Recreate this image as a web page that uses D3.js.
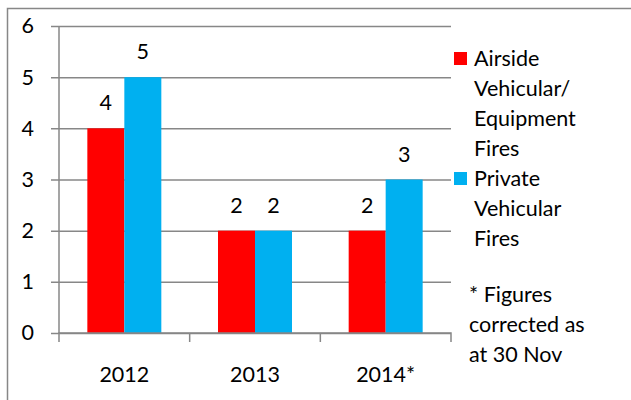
<!DOCTYPE html>
<html>
<head>
<meta charset="utf-8">
<script src="https://cdn.jsdelivr.net/npm/d3@7"></script>
<style>
    body { margin: 0; background: #fff; }
    svg { display: block; font-family: Lato, "Open Sans", sans-serif; }
</style>
</head>
<body>
<svg id="chart" width="631" height="400"></svg>
<script>
const categories = ["2012", "2013", "2014*"];
const seriesNames = ["Airside Vehicular/ Equipment Fires", "Private Vehicular Fires"];
const airsideFires = [4, 2, 2];
const privateFires = [5, 2, 3];
const yTicks = [0, 1, 2, 3, 4, 5, 6];
const legendLines = [
    ["Airside", "Vehicular/", "Equipment", "Fires"],
    ["Private", "Vehicular", "Fires"]
];
const footnote = ["* Figures", "corrected as", "at 30 Nov"];

const colors = ["#ff0000", "#00b0f0"];
const axisColor = "#878787";
const fontSize = 21.5;

const svg = d3.select("#chart");

// Outer chart frame (only top/left edges fall inside the picture)
svg.append("rect")
    .attr("x", 7.5)
    .attr("y", 8.5)
    .attr("width", 700)
    .attr("height", 500)
    .attr("fill", "none")
    .attr("stroke", axisColor)
    .attr("stroke-width", 1.5);

const plot = { left: 59, right: 451, top: 26, bottom: 333 };

const x0 = d3.scaleBand()
    .domain(categories)
    .range([plot.left, plot.right]);

const x1 = d3.scaleBand()
    .domain(d3.range(seriesNames.length))
    .range([0, x0.bandwidth()])
    .paddingInner(0)
    .paddingOuter(0.766);

const y = d3.scaleLinear()
    .domain([0, 6])
    .range([plot.bottom, plot.top]);

// Horizontal grid lines + y axis
const yAxis = svg.append("g")
    .attr("transform", `translate(${plot.left},0)`)
    .call(d3.axisLeft(y)
        .tickValues(yTicks)
        .tickSize(8)
        .tickPadding(17)
        .tickFormat(d3.format("d")));

yAxis.select(".domain").remove();
yAxis.selectAll(".tick line")
    .attr("x1", -8)
    .attr("x2", plot.right - plot.left)
    .attr("stroke", axisColor)
    .attr("stroke-width", 1.5);
yAxis.selectAll(".tick text")
    .attr("font-size", fontSize)
    .attr("font-family", "Lato")
    .attr("fill", "#000");

// Bars
const values = [airsideFires, privateFires];
const groups = svg.append("g")
    .selectAll("g")
    .data(categories)
    .join("g")
    .attr("transform", d => `translate(${x0(d)},0)`);

groups.selectAll("rect")
    .data((d, i) => values.map((v, s) => ({ s: s, value: v[i] })))
    .join("rect")
    .attr("x", d => x1(d.s))
    .attr("width", x1.bandwidth())
    .attr("y", d => y(d.value))
    .attr("height", d => y(0) - y(d.value))
    .attr("fill", d => colors[d.s]);

groups.selectAll("text")
    .data((d, i) => values.map((v, s) => ({ s: s, value: v[i] })))
    .join("text")
    .attr("x", d => x1(d.s) + x1.bandwidth() / 2)
    .attr("y", d => y(d.value) - 18)
    .attr("text-anchor", "middle")
    .attr("font-size", fontSize)
    .text(d => d.value);

// Axis lines on top of bars
svg.append("line")
    .attr("x1", plot.left).attr("x2", plot.left)
    .attr("y1", plot.top).attr("y2", plot.bottom)
    .attr("stroke", axisColor)
    .attr("stroke-width", 1.5);

const xAxis = svg.append("g")
    .attr("transform", `translate(0,${plot.bottom})`)
    .call(d3.axisBottom(x0).tickSize(0).tickPadding(0));

xAxis.select(".domain")
    .attr("d", `M${plot.left},9V0H${plot.right}V9`)
    .attr("stroke", axisColor)
    .attr("stroke-width", 1.5);
xAxis.selectAll(".tick text")
    .attr("font-size", fontSize)
    .attr("font-family", "Lato")
    .attr("fill", "#000")
    .attr("dy", null)
    .attr("y", 49);

// Category boundary ticks
xAxis.selectAll(".cat-tick")
    .data(categories.slice(1))
    .join("line")
    .attr("class", "cat-tick")
    .attr("x1", d => x0(d)).attr("x2", d => x0(d))
    .attr("y1", 0).attr("y2", 9)
    .attr("stroke", axisColor)
    .attr("stroke-width", 1.5);

// Legend
const legend = svg.append("g");
const lineHeight = 30;
legendLines.forEach((lines, s) => {
    const base = 66 + s * 4 * lineHeight;
    legend.append("rect")
        .attr("x", 454)
        .attr("y", base - 14)
        .attr("width", 13)
        .attr("height", 13)
        .attr("fill", colors[s]);
    legend.append("text")
        .attr("font-size", fontSize)
        .selectAll("tspan")
        .data(lines)
        .join("tspan")
        .attr("x", 474)
        .attr("y", (d, i) => base + i * lineHeight)
        .text(d => d);
});

// Footnote
svg.append("text")
    .attr("font-size", fontSize)
    .selectAll("tspan")
    .data(footnote)
    .join("tspan")
    .attr("x", 469)
    .attr("y", (d, i) => 302 + i * lineHeight)
    .text(d => d);
</script>
</body>
</html>
